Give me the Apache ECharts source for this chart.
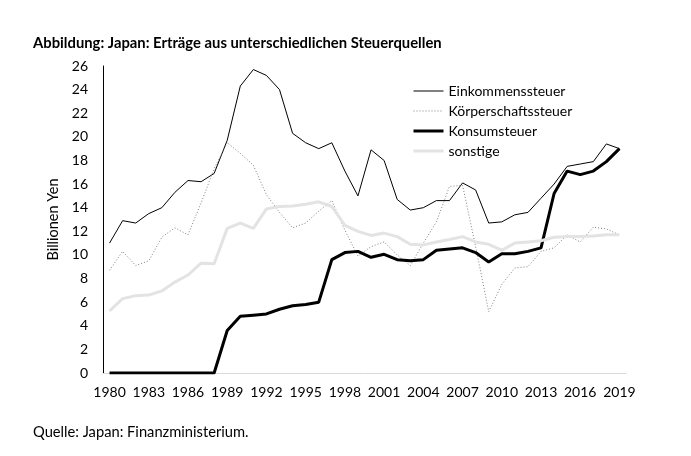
<!DOCTYPE html>
<html>
<head>
<meta charset="utf-8">
<script src="https://cdn.jsdelivr.net/npm/echarts@6/dist/echarts.min.js"></script>
<style>html,body{margin:0;padding:0;background:#fff}#c{width:691px;height:456px}</style>
</head>
<body>
<div id="c"></div>
<script>
const years = [];
for (let y = 1980; y <= 2019; y++) years.push(String(y));

const einkommen = [11.0,12.9,12.7,13.5,14.0,15.3,16.3,16.2,16.9,19.7,24.3,25.7,25.2,24.0,20.3,19.5,19.0,19.5,17.1,15.0,18.9,18.0,14.7,13.8,14.0,14.6,14.6,16.1,15.5,12.7,12.8,13.4,13.6,14.8,16.0,17.5,17.7,17.9,19.4,19.0];
const koerperschaft = [8.7,10.3,9.1,9.5,11.5,12.3,11.7,14.4,17.3,19.5,18.6,17.6,15.1,13.6,12.3,12.7,13.7,14.6,12.1,9.9,10.7,11.1,10.0,9.1,11.0,12.8,15.8,15.9,10.7,5.2,7.5,8.9,9.0,10.3,10.6,11.7,11.1,12.35,12.2,11.7];
const konsum = [0,0,0,0,0,0,0,0,0,3.6,4.8,4.9,5.0,5.4,5.7,5.8,6.0,9.6,10.2,10.3,9.8,10.05,9.6,9.5,9.6,10.4,10.5,10.6,10.2,9.4,10.1,10.1,10.3,10.6,15.2,17.1,16.8,17.1,17.9,19.0];
const sonstige = [5.25,6.3,6.55,6.6,6.95,7.7,8.3,9.3,9.25,12.25,12.7,12.25,13.9,14.1,14.15,14.3,14.5,14.1,12.5,12.0,11.65,11.85,11.55,10.9,10.85,11.1,11.3,11.55,11.1,10.9,10.4,11.0,11.1,11.2,11.5,11.55,11.55,11.6,11.7,11.7];
const seriesNames = ['Einkommenssteuer','Körperschaftssteuer','Konsumsteuer','sonstige'];

const styles = [
  {color: '#000', width: 1, type: 'solid'},
  {color: '#7f7f7f', width: 1, type: [1, 2]},
  {color: '#000', width: 3, type: 'solid'},
  {color: '#e3e3e3', width: 3, type: 'solid'}
];
const dataSets = [einkommen, koerperschaft, konsum, sonstige];

const FONT = 'Lato';
const chart = echarts.init(document.getElementById('c'), null, {renderer: 'canvas'});
chart.setOption({
  animation: false,
  backgroundColor: '#fff',
  textStyle: {fontFamily: FONT, color: '#000'},
  title: [
    {text: 'Abbildung: Japan: Erträge aus unterschiedlichen Steuerquellen', left: 28, top: 31,
     textStyle: {fontFamily: FONT, fontSize: 14.8, fontWeight: 'bold', color: '#000'}},
    {text: 'Quelle: Japan: Finanzministerium.', left: 28, top: 420,
     textStyle: {fontFamily: FONT, fontSize: 14.7, fontWeight: 'normal', color: '#000'}}
  ],
  legend: {
    orient: 'vertical', left: 407, top: 79, itemWidth: 30, itemHeight: 12, itemGap: 6,
    itemStyle: {opacity: 0},
    textStyle: {fontFamily: FONT, fontSize: 14, color: '#000', padding: [0,0,0,0]},
    data: seriesNames.map((n, i) => ({name: n, lineStyle: Object.assign({}, styles[i])}))
  },
  grid: {left: 103, right: 65, top: 66, bottom: 83},
  xAxis: {
    type: 'category', data: years, boundaryGap: true,
    axisLine: {lineStyle: {color: '#d9d9d9', width: 1}},
    axisTick: {show: false},
    axisLabel: {interval: 2, color: '#000', fontSize: 14, fontFamily: FONT, margin: 12}
  },
  yAxis: {
    type: 'value', min: 0, max: 26, interval: 2,
    name: 'Billionen Yen', nameLocation: 'middle', nameGap: 38, nameRotate: 90,
    nameTextStyle: {fontFamily: FONT, fontSize: 14.5, color: '#000'},
    axisLine: {show: true, lineStyle: {color: '#000', width: 1}},
    axisTick: {show: false},
    splitLine: {show: false},
    axisLabel: {color: '#000', fontSize: 14, fontFamily: FONT, margin: 15}
  },
  series: seriesNames.map((n, i) => ({
    name: n, type: 'line', data: dataSets[i], symbol: 'none',
    lineStyle: Object.assign({}, styles[i]), itemStyle: {color: styles[i].color}
  }))
});
</script>
</body>
</html>
